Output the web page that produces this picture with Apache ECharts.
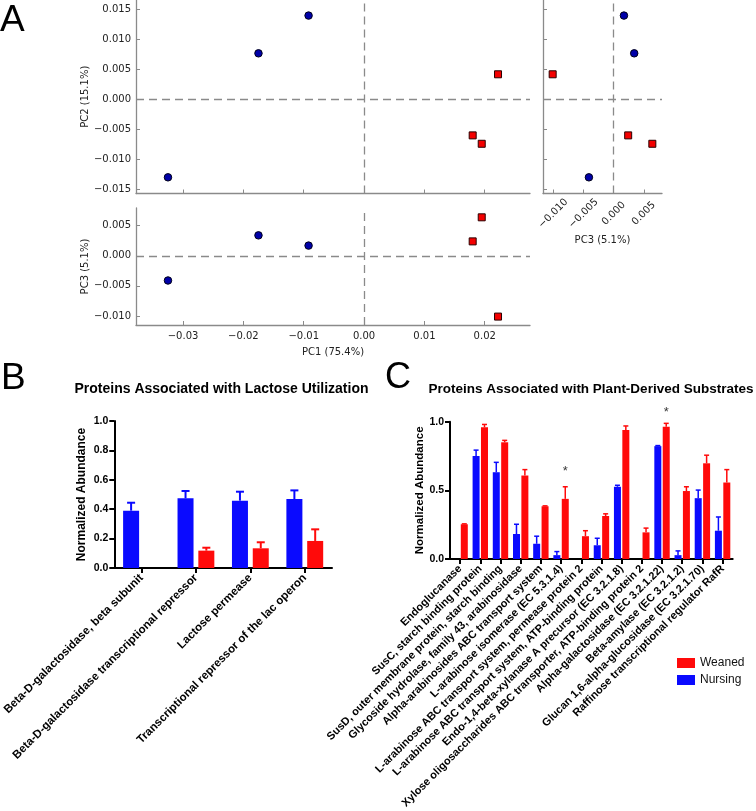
<!DOCTYPE html>
<html><head><meta charset="utf-8">
<script src="https://cdn.jsdelivr.net/npm/echarts@6/dist/echarts.min.js"></script>
<style>html,body{margin:0;padding:0;background:#fff}#c{width:756px;height:811px}</style>
</head><body><div id="c"></div>
<script>
// ---------- Panel A: PCA scores ----------
const nursingPC1 = [-0.0325, -0.0175, -0.0092];
const nursingPC2 = [-0.0130, 0.0077, 0.0140];
const nursingPC3 = [-0.0041, 0.0034, 0.0017];
const weanedPC1 = [0.0222, 0.0180, 0.0195];
const weanedPC2 = [0.0042, -0.0060, -0.0074];
const weanedPC3 = [-0.0101, 0.0024, 0.0064];
const pc1Ticks = [-0.03, -0.02, -0.01, 0, 0.01, 0.02];
const pc2Ticks = [-0.015, -0.01, -0.005, 0, 0.005, 0.01, 0.015];
const pc3Ticks = [-0.01, -0.005, 0, 0.005];

// ---------- Panel B: lactose utilization ----------
const lactoseCats = ['Beta-D-galactosidase, beta subunit', 'Beta-D-galactosidase transcriptional repressor', 'Lactose permease', 'Transcriptional repressor of the lac operon'];
const lactoseNursing = [0.390, 0.474, 0.458, 0.469];
const lactoseNursingSem = [0.054, 0.050, 0.061, 0.059];
const lactoseWeaned = [null, 0.118, 0.134, 0.184];
const lactoseWeanedSem = [null, 0.020, 0.041, 0.079];
const lactoseTicks = [0, 0.2, 0.4, 0.6, 0.8, 1.0];

// ---------- Panel C: plant-derived substrates ----------
const plantCats = ['Endoglucanase', 'SusC, starch binding protein', 'SusD, outer membrane protein, starch binding', 'Glycoside hydrolase, family 43, arabinosidase', 'Alpha-arabinosides ABC transport system', 'L-arabinose isomerase (EC 5.3.1.4)', 'L-arabinose ABC transport system, permease protein 2', 'L-arabinose ABC transport system, ATP-binding protein', 'Endo-1,4-beta-xylanase A precursor (EC 3.2.1.8)', 'Xylose oligosaccharides ABC transporter, ATP-binding protein 2', 'Alpha-galactosidase (EC 3.2.1.22)', 'Beta-amylase (EC 3.2.1.2)', 'Glucan 1,6-alpha-glucosidase (EC 3.2.1.70)', 'Raffinose transcriptional regulator RafR'];
const plantNursing = [null, 0.750, 0.632, 0.182, 0.111, 0.028, null, 0.100, 0.526, null, 0.822, 0.028, 0.443, 0.206];
const plantNursingSem = [null, 0.043, 0.072, 0.071, 0.055, 0.026, null, 0.051, 0.011, null, 0.004, 0.031, 0.059, 0.100];
const plantWeaned = [0.253, 0.959, 0.850, 0.608, 0.384, 0.438, 0.166, 0.313, 0.940, 0.194, 0.964, 0.495, 0.697, 0.557];
const plantWeanedSem = [0.003, 0.021, 0.014, 0.043, 0.003, 0.088, 0.040, 0.016, 0.029, 0.031, 0.024, 0.031, 0.059, 0.094];
const plantTicks = [0, 0.5, 1.0];
const starCats = [5, 10];
const starY = [0.66, 1.09];

const BLUE = '#0a0aff', RED = '#ff0a0a';
const GREY = '#8a8a8a';
const MPL = 'DejaVu Sans', ARIAL = 'Liberation Sans';

const fmt = d => v => (v < 0 ? '\u2212' : '') + Math.abs(v).toFixed(d);
const zip = (a, b) => a.map((v, i) => [v, b[i]]);

function pcaAxis(o) {
  return Object.assign({
    type: 'value', splitLine: {show: false}, nameMoveOverlap: false,
    axisLine: {show: true, onZero: false, lineStyle: {color: GREY, width: 1.3}},
    axisTick: {show: true, inside: true, length: 4, lineStyle: {color: GREY, width: 1}},
    axisLabel: {show: true, fontFamily: MPL, fontSize: 10, color: '#222', margin: 5},
    nameTextStyle: {fontFamily: MPL, fontSize: 10, color: '#222'}
  }, o);
}
const zeroLines = {
  silent: true, symbol: 'none', label: {show: false},
  lineStyle: {color: GREY, type: [8, 5], width: 1.3},
  data: [{xAxis: 0}, {yAxis: 0}]
};
function blueScatter(xi, yi, xs, ys, ml) {
  const s = {type: 'scatter', xAxisIndex: xi, yAxisIndex: yi, data: zip(xs, ys), symbol: 'circle', symbolSize: 7.5,
    itemStyle: {color: '#0000a8', borderColor: '#000018', borderWidth: 1, opacity: 1}, z: 5, clip: false};
  if (ml) s.markLine = zeroLines;
  return s;
}
function redScatter(xi, yi, xs, ys) {
  return {type: 'scatter', xAxisIndex: xi, yAxisIndex: yi, data: zip(xs, ys), symbol: 'rect', symbolSize: 7,
    itemStyle: {color: '#f40000', borderColor: '#2a0000', borderWidth: 1, opacity: 1}, z: 5, clip: false};
}

function errSeries(xi, yi, vals, sems, color, offset, cap, lw) {
  const data = [];
  vals.forEach((v, i) => { if (v != null) data.push([i, v, v + sems[i]]); });
  return {
    type: 'custom', xAxisIndex: xi, yAxisIndex: yi, silent: true, data, z: 1,
    encode: {x: 0, y: [1, 2]},
    renderItem(params, api) {
      const c = api.coord([api.value(0), api.value(1)]);
      const t = api.coord([api.value(0), api.value(2)]);
      const x = c[0] + offset;
      return {type: 'group', children: [
        {type: 'line', shape: {x1: x, y1: c[1], x2: x, y2: t[1]}, style: {stroke: color, lineWidth: lw}},
        {type: 'line', shape: {x1: x - cap / 2, y1: t[1], x2: x + cap / 2, y2: t[1]}, style: {stroke: color, lineWidth: lw}}
      ]};
    }
  };
}

function barCatAxis(gi, cats, fs, margin) {
  return {type: 'category', gridIndex: gi, data: cats, boundaryGap: true,
    axisLine: {show: true, lineStyle: {color: '#000', width: 2}},
    axisTick: {show: true, alignWithLabel: true, length: 5, lineStyle: {color: '#000', width: 2}},
    axisLabel: {interval: 0, rotate: 45, fontFamily: ARIAL, fontWeight: 'bold', fontSize: fs, color: '#000', margin: margin},
    splitLine: {show: false}};
}
function barValAxis(gi, interval, ticks, gap, fs) {
  return {type: 'value', gridIndex: gi, min: 0, max: 1, interval: interval, nameMoveOverlap: false,
    axisLine: {show: true, lineStyle: {color: '#000', width: 2}},
    axisTick: {show: true, length: 5, lineStyle: {color: '#000', width: 2}},
    axisLabel: {fontFamily: ARIAL, fontWeight: 'bold', fontSize: 10.5, color: '#000', margin: 6, formatter: v => v.toFixed(1)},
    splitLine: {show: false},
    name: 'Normalized Abundance', nameLocation: 'middle', nameGap: gap,
    nameTextStyle: {fontFamily: ARIAL, fontWeight: 'bold', fontSize: fs, color: '#000'}};
}

const chart = echarts.init(document.getElementById('c'), null, {renderer: 'canvas'});
chart.setOption({
  animation: false,
  backgroundColor: '#fff',
  grid: [
    {left: 136, top: 0, width: 394, height: 193.5},
    {left: 543, top: 0, width: 119, height: 193.5},
    {left: 136, top: 208, width: 394, height: 117},
    {left: 111, top: 421, width: 221, height: 147},
    {left: 450, top: 421.7, width: 282.7, height: 140.6}
  ],
  xAxis: [
    pcaAxis({gridIndex: 0, min: -0.0378, max: 0.0275,
      axisTick: {show: true, inside: true, length: 4, lineStyle: {color: GREY}, customValues: pc1Ticks},
      axisLabel: {show: false}}),
    pcaAxis({gridIndex: 1, min: -0.0117, max: 0.0080,
      axisTick: {show: true, inside: true, length: 4, lineStyle: {color: GREY}, customValues: pc3Ticks},
      axisLabel: {show: true, fontFamily: MPL, fontSize: 10, color: '#222', rotate: 45, align: 'center', verticalAlign: 'middle', margin: 20, customValues: pc3Ticks, formatter: fmt(3)},
      name: 'PC3 (5.1%)', nameLocation: 'middle', nameGap: 42}),
    pcaAxis({gridIndex: 2, min: -0.0378, max: 0.0275,
      axisTick: {show: true, inside: true, length: 4, lineStyle: {color: GREY}, customValues: pc1Ticks},
      axisLabel: {show: true, fontFamily: MPL, fontSize: 10, color: '#222', margin: 6, customValues: pc1Ticks, formatter: fmt(2)},
      name: 'PC1 (75.4%)', nameLocation: 'middle', nameGap: 22}),
    barCatAxis(3, lactoseCats, 11.5, 8),
    barCatAxis(4, plantCats, 11, 8)
  ],
  yAxis: [
    pcaAxis({gridIndex: 0, min: -0.0157, max: 0.0166,
      axisTick: {show: true, inside: true, length: 4, lineStyle: {color: GREY}, customValues: pc2Ticks},
      axisLabel: {show: true, fontFamily: MPL, fontSize: 10, color: '#222', margin: 5, customValues: pc2Ticks, formatter: fmt(3)},
      name: 'PC2 (15.1%)', nameLocation: 'middle', nameGap: 46}),
    pcaAxis({gridIndex: 1, min: -0.0157, max: 0.0166,
      axisTick: {show: true, inside: true, length: 4, lineStyle: {color: GREY}, customValues: pc2Ticks},
      axisLabel: {show: false}}),
    pcaAxis({gridIndex: 2, min: -0.0115, max: 0.00795,
      axisTick: {show: true, inside: true, length: 4, lineStyle: {color: GREY}, customValues: pc3Ticks},
      axisLabel: {show: true, fontFamily: MPL, fontSize: 10, color: '#222', margin: 5, customValues: pc3Ticks, formatter: fmt(3)},
      name: 'PC3 (5.1%)', nameLocation: 'middle', nameGap: 46}),
    barValAxis(3, 0.2, lactoseTicks, 27, 12),
    barValAxis(4, 0.5, plantTicks, 24, 11.5)
  ],
  legend: {data: ['Weaned', 'Nursing'], orient: 'vertical', left: 672, top: 652, icon: 'rect',
    itemWidth: 18, itemHeight: 10, itemGap: 5, selectedMode: false,
    textStyle: {fontFamily: ARIAL, fontSize: 12, color: '#111'}},
  graphic: [
    {type: 'text', left: 0, top: 2, style: {text: 'A', font: '37px "Liberation Sans"', fill: '#000'}},
    {type: 'text', left: 1, top: 360, style: {text: 'B', font: '37px "Liberation Sans"', fill: '#000'}},
    {type: 'text', left: 385, top: 360, style: {text: 'C', font: '36px "Liberation Sans"', fill: '#000'}},
    {type: 'text', x: 221.5, y: 389, style: {text: 'Proteins Associated with Lactose Utilization', font: 'bold 14px "Liberation Sans"', fill: '#000', align: 'center', verticalAlign: 'middle'}},
    {type: 'text', x: 591, y: 389, style: {text: 'Proteins Associated with Plant-Derived Substrates', font: 'bold 13.5px "Liberation Sans"', fill: '#000', align: 'center', verticalAlign: 'middle'}}
  ],
  series: [
    blueScatter(0, 0, nursingPC1, nursingPC2, true),
    redScatter(0, 0, weanedPC1, weanedPC2),
    blueScatter(1, 1, nursingPC3, nursingPC2, true),
    redScatter(1, 1, weanedPC3, weanedPC2),
    blueScatter(2, 2, nursingPC1, nursingPC3, true),
    redScatter(2, 2, weanedPC1, weanedPC3),
    {type: 'bar', name: 'Nursing', xAxisIndex: 3, yAxisIndex: 3, data: lactoseNursing, barWidth: 16, barGap: '30%', itemStyle: {color: BLUE}, z: 2},
    {type: 'bar', name: 'Weaned', xAxisIndex: 3, yAxisIndex: 3, data: lactoseWeaned, barWidth: 16, barGap: '30%', itemStyle: {color: RED}, z: 2},
    errSeries(3, 3, lactoseNursing, lactoseNursingSem, BLUE, -10.4, 8, 2),
    errSeries(3, 3, lactoseWeaned, lactoseWeanedSem, RED, 10.4, 8, 2),
    {type: 'bar', name: 'Nursing', xAxisIndex: 4, yAxisIndex: 4, data: plantNursing, barWidth: 7, barGap: '20%', itemStyle: {color: BLUE}, z: 2},
    {type: 'bar', name: 'Weaned', xAxisIndex: 4, yAxisIndex: 4, data: plantWeaned, barWidth: 7, barGap: '20%', itemStyle: {color: RED}, z: 2},
    errSeries(4, 4, plantNursing, plantNursingSem, BLUE, -4.2, 5, 1.5),
    errSeries(4, 4, plantWeaned, plantWeanedSem, RED, 4.2, 5, 1.5),
    {type: 'scatter', xAxisIndex: 4, yAxisIndex: 4, data: zip(starCats, starY), symbolSize: 1, itemStyle: {color: 'rgba(0,0,0,0)'}, clip: false, silent: true,
      label: {show: true, formatter: '*', position: 'inside', offset: [4.2, 3], fontFamily: ARIAL, fontSize: 13, color: '#000'}}
  ]
});
</script></body></html>
